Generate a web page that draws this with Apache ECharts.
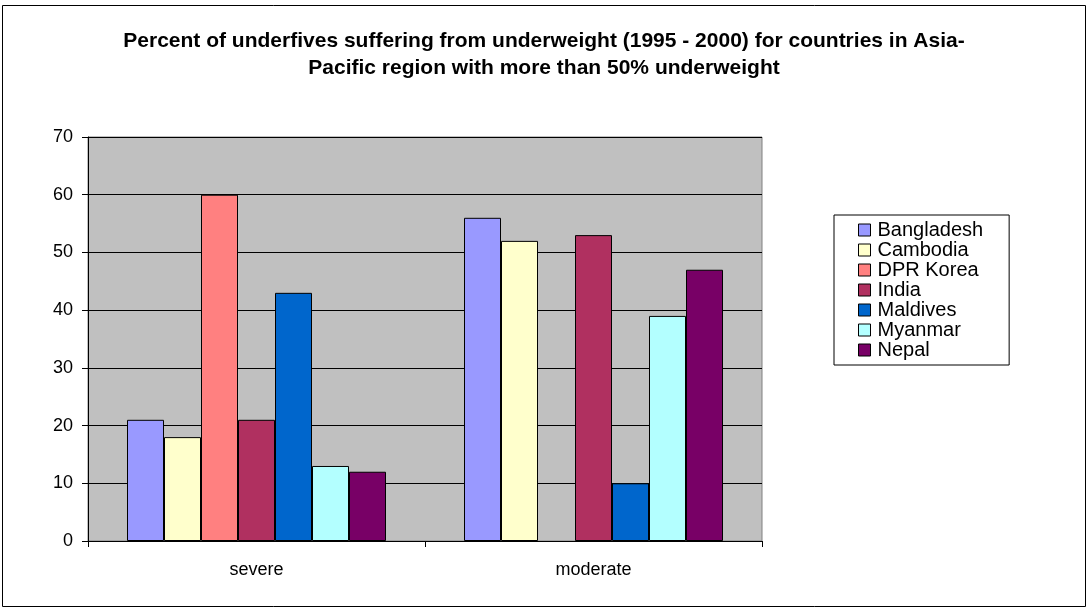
<!DOCTYPE html>
<html>
<head>
<meta charset="utf-8">
<script src="https://cdn.jsdelivr.net/npm/echarts@6/dist/echarts.min.js"></script>
<style>
  html, body { margin: 0; padding: 0; background: #fff; }
  #chart { width: 1088px; height: 608px; }
</style>
</head>
<body>
<div id="chart"></div>
<script>
  // categories on the x axis
  var categories = ['severe', 'moderate']
  // one series per country
  var countries = ['Bangladesh', 'Cambodia', 'DPR Korea', 'India', 'Maldives', 'Myanmar', 'Nepal']
  var bangladesh = [21, 56]
  var cambodia = [18, 52]
  var dprKorea = [60, null]
  var india = [21, 53]
  var maldives = [43, 10]
  var myanmar = [13, 39]
  var nepal = [12, 47]
  var yTicks = [0, 10, 20, 30, 40, 50, 60, 70]

  var values = [bangladesh, cambodia, dprKorea, india, maldives, myanmar, nepal]
  var colorArr = ['#9999ff', '#ffffcc', '#ff8080', '#b03060', '#0066cc', '#b3ffff', '#780066']

  var chart = echarts.init(document.getElementById('chart'))
  var seriesTemp = []
  for (var i = 0; i < countries.length; i++) {
    seriesTemp.push({
      name: countries[i],
      type: 'bar',
      data: values[i],
      barWidth: 37,
      barGap: '0%',
      itemStyle: { color: colorArr[i], borderColor: '#000', borderWidth: 1 }
    })
  }

  chart.setOption({
    animation: false,
    textStyle: { fontFamily: 'Liberation Sans, Arial, sans-serif' },
    title: {
      text: 'Percent of underfives suffering from underweight (1995 - 2000) for countries in Asia-\nPacific region with more than 50% underweight',
      left: 'center',
      top: 23,
      textStyle: { fontSize: 21, fontWeight: 'bold', color: '#000', lineHeight: 27 }
    },
    graphic: [{
      type: 'rect',
      shape: { x: 2.5, y: 5.5, width: 1083, height: 601 },
      style: { fill: 'none', stroke: '#000', lineWidth: 1 },
      silent: true
    }],
    legend: {
      orient: 'vertical',
      left: 834,
      top: 215,
      padding: [5, 26, 5, 24],
      borderColor: '#000',
      borderWidth: 1,
      itemWidth: 12,
      itemHeight: 12,
      itemGap: 0,
      icon: 'rect',
      itemStyle: { borderColor: '#000', borderWidth: 1 },
      textStyle: { fontSize: 20, color: '#000', lineHeight: 20, padding: [0, 0, 0, 2] },
      data: countries
    },
    grid: {
      left: 88,
      top: 137,
      width: 674,
      height: 404,
      show: true,
      backgroundColor: '#c0c0c0',
      borderColor: '#808080',
      borderWidth: 1
    },
    xAxis: {
      type: 'category',
      data: categories,
      axisLine: { lineStyle: { color: '#000' } },
      axisTick: { show: true, alignWithLabel: false, length: 6, lineStyle: { color: '#000' } },
      axisLabel: { fontSize: 18, color: '#000', margin: 20 }
    },
    yAxis: {
      type: 'value',
      min: yTicks[0],
      max: yTicks[yTicks.length - 1],
      interval: 10,
      axisLine: { show: true, lineStyle: { color: '#000' } },
      axisTick: { show: true, length: 6, lineStyle: { color: '#000' } },
      axisLabel: { fontSize: 18, color: '#000', margin: 15 },
      splitLine: { show: true, lineStyle: { color: '#000', width: 1 } }
    },
    series: seriesTemp
  })
</script>
</body>
</html>
